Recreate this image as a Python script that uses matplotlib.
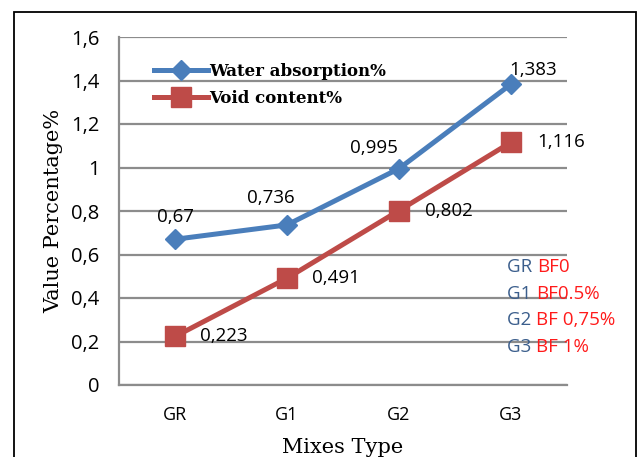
import matplotlib
matplotlib.use("Agg")
import matplotlib.pyplot as plt
from matplotlib.patches import Rectangle

categories = ["GR", "G1", "G2", "G3"]
water_absorption = [0.67, 0.736, 0.995, 1.383]
void_content = [0.223, 0.491, 0.802, 1.116]
y_ticks = [0, 0.2, 0.4, 0.6, 0.8, 1.0, 1.2, 1.4, 1.6]
y_tick_labels = ["0", "0,2", "0,4", "0,6", "0,8", "1", "1,2", "1,4", "1,6"]
mix_codes = ["GR", "G1", "G2", "G3"]
fibre_contents = ["BF0", "BF0.5%", "BF 0,75%", "BF 1%"]

BLUE = "#4A7EBB"
RED = "#BE4B48"
GRID = "#8C8C8C"
NUM_FONT = "Open Sans"
SERIF = "DejaVu Serif"


def fmt(v):
    return ("%g" % v).replace(".", ",")


fig = plt.figure(figsize=(6.39, 4.57), dpi=100)
fig.patch.set_facecolor("white")

# outer chart frame
fig.add_artist(Rectangle((14 / 639, -0.05), (636 - 14) / 639, 1.05 - 12 / 457,
                         transform=fig.transFigure, fill=False,
                         edgecolor="black", linewidth=1.3))

ax = fig.add_axes([119 / 639, 1 - 385 / 457, (567 - 119) / 639, (385 - 37) / 457])
x = list(range(len(categories)))

ax.set_xlim(-0.5, len(categories) - 0.5)
ax.set_ylim(0, 1.6)
ax.set_yticks(y_ticks)
ax.set_yticklabels(y_tick_labels, fontsize=14.5, family=NUM_FONT)
ax.set_xticks(x)
ax.set_xticklabels(categories, fontsize=13, family=NUM_FONT)
ax.tick_params(axis="both", length=0)
ax.tick_params(axis="y", pad=14)
ax.tick_params(axis="x", pad=15)
ax.yaxis.grid(True, color=GRID, linewidth=1.6)
ax.set_axisbelow(True)
for side in ("top", "right"):
    ax.spines[side].set_visible(False)
for side in ("left", "bottom"):
    ax.spines[side].set_color(GRID)
    ax.spines[side].set_linewidth(1.6)

ln_w, = ax.plot(x, water_absorption, color=BLUE, linewidth=3.6, marker="D",
                markersize=10.5, label="Water absorption%")
ln_v, = ax.plot(x, void_content, color=RED, linewidth=3.6, marker="s",
                markersize=14, label="Void content%")

# data labels
w_offsets = [(0, 16), (-11.5, 19.5), (-18, 15), (16, 10)]
for xi, v, (dx, dy) in zip(x, water_absorption, w_offsets):
    ax.annotate(fmt(v), (xi, v), xytext=(dx, dy), textcoords="offset points",
                ha="center", va="center", fontsize=13.5, family=NUM_FONT)
v_offsets = [(18, 0), (18, 0), (19, 0), (19, 0)]
for xi, v, (dx, dy) in zip(x, void_content, v_offsets):
    ax.annotate(fmt(v), (xi, v), xytext=(dx, dy), textcoords="offset points",
                ha="left", va="center", fontsize=13.5, family=NUM_FONT)

ax.set_ylabel("Value Percentage%", fontsize=15, family=SERIF, labelpad=6)
ax.set_xlabel("Mixes Type", fontsize=15, family=SERIF, labelpad=10)

leg = ax.legend(handles=[ln_w, ln_v], loc="upper left",
                bbox_to_anchor=(0.06, 0.95), frameon=False,
                prop={"family": SERIF, "weight": "bold", "size": 12},
                handlelength=3.2, handletextpad=0.1, labelspacing=0.6,
                borderpad=0)

# mix legend text box
for i, (code, fib) in enumerate(zip(mix_codes, fibre_contents)):
    yy = 1 - (267 + i * 26.7) / 457
    t = fig.text(507 / 639, yy, code + " ", color="#3B5E8C", fontsize=13.5,
                 family=NUM_FONT, va="center", ha="left")
    fig.canvas.draw()
    bb = t.get_window_extent()
    fig.text(bb.x1 / 639, yy, fib, color="#FF1A1A", fontsize=13.5,
             family=NUM_FONT, va="center", ha="left")

fig.savefig("out.png", dpi=100)
